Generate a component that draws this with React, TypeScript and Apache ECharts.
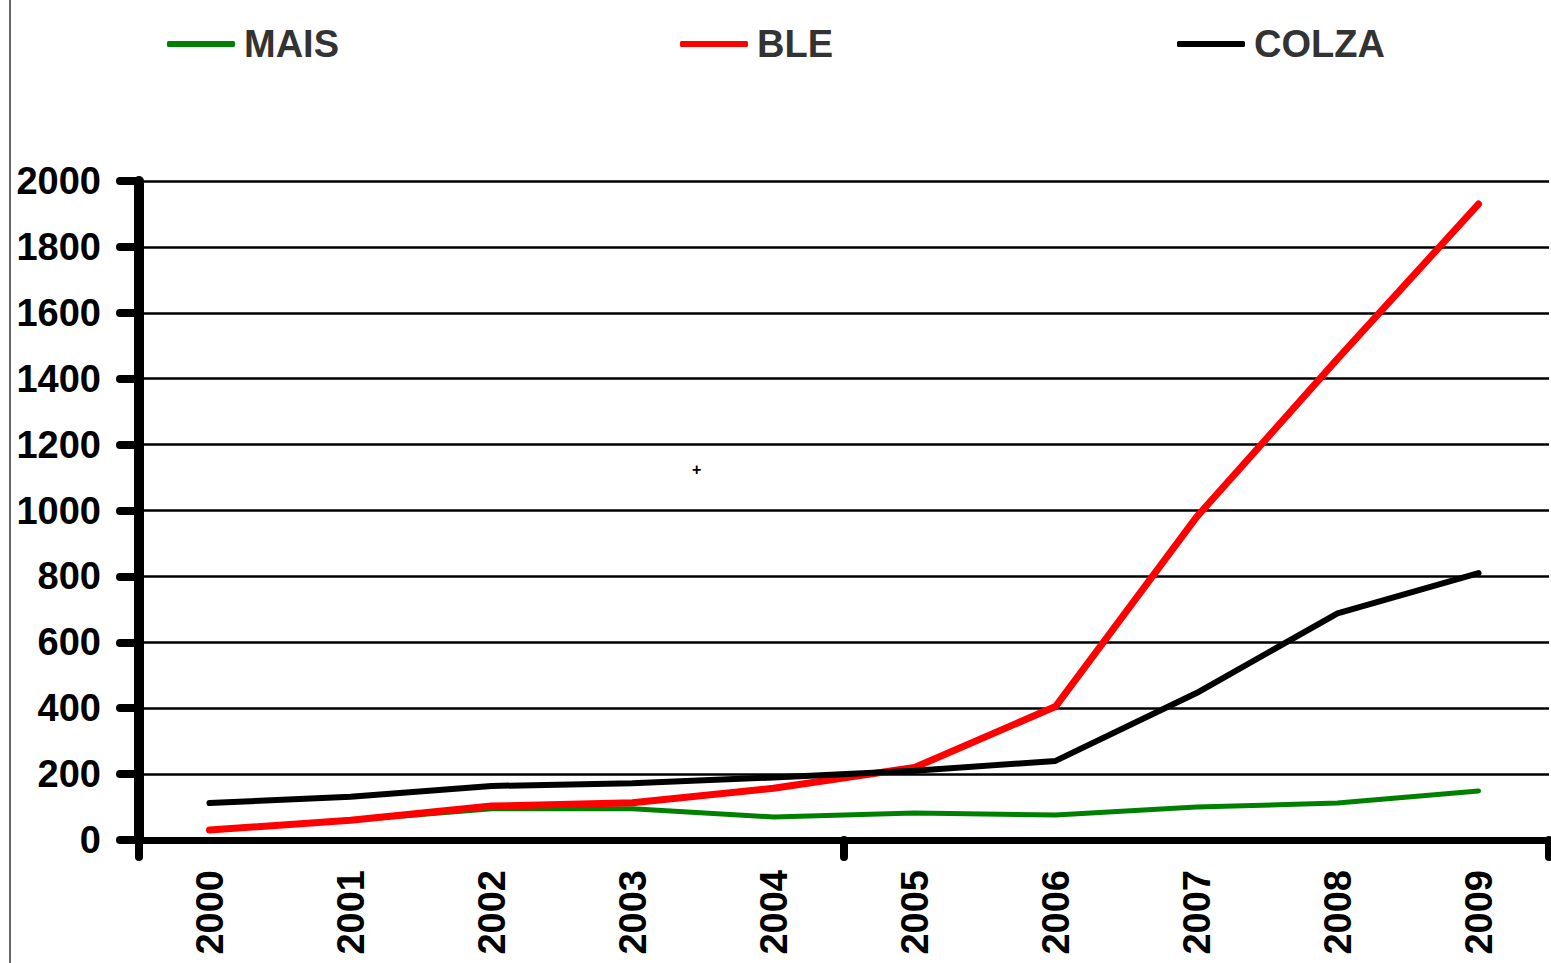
import React, { useEffect, useRef } from "react";
import * as echarts from "echarts";

const years = ["2000", "2001", "2002", "2003", "2004", "2005", "2006", "2007", "2008", "2009"];
const mais = [30, 60, 95, 95, 70, 82, 76, 100, 112, 149];
const ble = [30, 60, 103, 113, 157, 220, 405, 980, 1460, 1930];
const colza = [112, 131, 164, 172, 190, 210, 240, 446, 688, 810];

const FONT = "'Liberation Sans', Arial, sans-serif";

export default function App() {
  const ref = useRef<HTMLDivElement>(null);
  useEffect(() => {
    document.body.style.margin = "0";
    const chart = echarts.init(ref.current!, undefined, { renderer: "svg" });
    const legendCommon = {
      top: 25,
      padding: 0,
      itemWidth: 68,
      itemHeight: 6,
      itemGap: 10,
      icon: "roundRect",
      textStyle: { fontSize: 38, fontWeight: "bold", color: "#333", fontFamily: FONT, padding: [0, 0, 0, 4] },
    };
    chart.setOption({
      animation: false,
      backgroundColor: "#fff",
      legend: [
        { ...legendCommon, left: 167, data: ["MAIS"] },
        { ...legendCommon, left: 680, data: ["BLE"] },
        { ...legendCommon, left: 1177, data: ["COLZA"] },
      ],
      grid: { left: 139, right: 2, top: 181, bottom: 123, containLabel: false },
      xAxis: [
        {
          type: "category",
          data: years,
          boundaryGap: true,
          axisLine: { show: true, lineStyle: { color: "#000", width: 7, cap: "round" } },
          axisTick: { show: false },
          axisLabel: {
            rotate: 90,
            interval: 0,
            margin: 30,
            fontSize: 38,
            fontWeight: "bold",
            color: "#000",
            fontFamily: FONT,
          },
          splitLine: { show: false },
        },
        {
          type: "value",
          position: "bottom",
          min: 0,
          max: 10,
          interval: 5,
          axisLine: { show: false, onZero: false },
          axisTick: { show: true, length: 17, lineStyle: { color: "#000", width: 8, cap: "round" } },
          axisLabel: { show: false },
          splitLine: { show: false },
        },
      ],
      yAxis: {
        type: "value",
        min: 0,
        max: 2000,
        interval: 200,
        axisLine: { show: true, onZero: false, lineStyle: { color: "#000", width: 10, cap: "round" } },
        axisTick: { show: true, length: 19, lineStyle: { color: "#000", width: 8, cap: "round" } },
        axisLabel: {
          margin: 38,
          fontSize: 38,
          fontWeight: "bold",
          color: "#000",
          fontFamily: FONT,
          formatter: (v: number) => String(v),
        },
        splitLine: { show: true, lineStyle: { color: "#000", width: 2.5 } },
      },
      series: [
        {
          name: "MAIS",
          type: "line",
          data: mais,
          symbol: "none",
          lineStyle: { color: "#008000", width: 5, cap: "round" },
          itemStyle: { color: "#008000" },
        },
        {
          name: "BLE",
          type: "line",
          data: ble,
          symbol: "none",
          lineStyle: { color: "#ff0000", width: 7, cap: "round" },
          itemStyle: { color: "#ff0000" },
        },
        {
          name: "COLZA",
          type: "line",
          data: colza,
          symbol: "none",
          lineStyle: { color: "#000000", width: 6, cap: "round" },
          itemStyle: { color: "#000000" },
        },
      ],
      graphic: [
        {
          type: "line",
          shape: { x1: 10, y1: 0, x2: 10, y2: 963 },
          style: { stroke: "#666", lineWidth: 2 },
        },
        {
          type: "text",
          left: 692,
          top: 461,
          style: { text: "+", fill: "#000", font: "bold 16px " + FONT },
        },
      ],
    });
    return () => chart.dispose();
  }, []);
  return <div ref={ref} style={{ width: 1551, height: 963, position: "absolute", left: 0, top: 0 }} />;
}
